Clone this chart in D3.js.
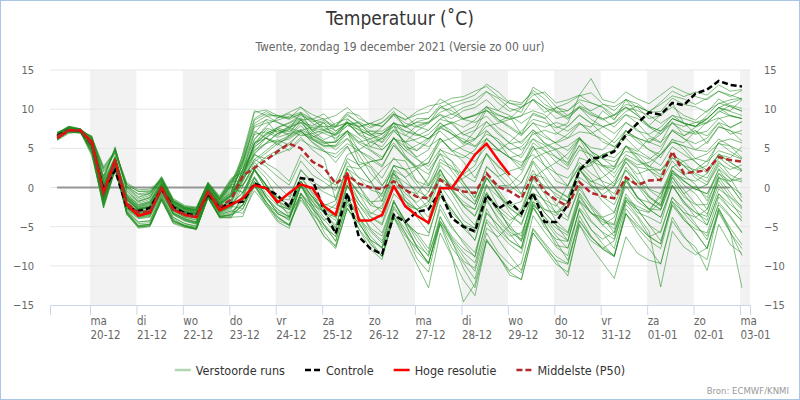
<!DOCTYPE html>
<html>
<head>
<meta charset="utf-8">
<script src="https://cdn.jsdelivr.net/npm/d3@7"></script>
<style>
  body { margin: 0; background: #fff; }
  svg text { font-family: "DejaVu Sans", sans-serif; font-stretch: condensed; }
</style>
</head>
<body>
<svg id="wrapper" width="800" height="400"></svg>
<script>
// eerste tijdstap van de pluim (lokale tijd), daarna elke 6 uur
const firstRun = new Date(2021, 11, 19, 7)
const stepHours = 6

const tickDays = ["ma", "di", "wo", "do", "vr", "za", "zo", "ma", "di", "wo", "do", "vr", "za", "zo", "ma"]
const tickDates = ["20-12", "21-12", "22-12", "23-12", "24-12", "25-12", "26-12", "27-12",
  "28-12", "29-12", "30-12", "31-12", "01-01", "02-01", "03-01"]
const yTicks = [-15, -10, -5, 0, 5, 10, 15]

const control = [6.6, 7.3, 7.3, 5.5, -0.3, 2.2, -2.5, -3.0, -2.6, -0.2, -2.5, -3.3, -3.6, -0.8, -2.6, -2.0,
  -1.8, 0.5, -0.1, -1.0, -2.5, 1.2, 1.0, -2.9, -5.9, -0.7, -6.3, -7.8, -8.5, -3.5, -4.4, -3.1,
  -2.8, -0.5, -3.9, -5.0, -5.6, -1.0, -2.7, -1.8, -3.3, -0.7, -4.4, -4.4, -2.2, 2.2, 3.7, 3.9,
  4.6, 6.7, 8.2, 9.6, 9.3, 10.8, 10.5, 12.0, 12.5, 13.6, 13.1, 12.9]

const hres = [6.3, 7.3, 7.3, 5.8, -0.7, 3.5, -2.2, -3.6, -3.2, 0.0, -2.8, -3.5, -3.8, -0.5, -2.9, -2.2,
  -1.4, 0.3, -0.1, -1.9, -0.7, 0.4, -0.1, -2.4, -3.5, 1.8, -4.2, -4.2, -3.5, 0.2, -2.4, -3.6,
  -4.5, -0.1, -0.1, 2.0, 4.2, 5.6, 3.5, 1.6]

const p50 = [6.5, 7.3, 7.3, 5.5, -0.8, 3.2, -2.0, -3.2, -3.0, -0.2, -2.8, -3.4, -3.8, -0.5, -2.5, -1.5,
  1.5, 2.5, 3.5, 4.6, 5.6, 5.0, 3.3, 2.5, 0.5, 1.6, 0.5, 0.0, -0.2, 0.8, -0.3, -1.2,
  -1.4, 1.0, -0.1, -0.5, -0.7, 1.8, 0.1, -0.5, -1.4, 1.6, -0.5, -1.6, -2.4, 0.7, -0.7, -1.1,
  -1.4, 1.3, 0.3, 0.9, 1.0, 4.6, 1.8, 2.0, 2.2, 3.9, 3.5, 3.3]

// 50 verstoorde runs
const members = [
  [6.8,7.6,7.4,6.0,0.5,3.8,-1.2,-2.5,-2.0,0.5,-2.2,-3.0,-3.0,0.0,-2.0,-0.8, 3.2,7.9,8.6,6.8, 7.4,9.6,7.1,8.3, 5.9,8.7,7.8,5.2, 6.4,8.2,5.1,3.9, 4.8,7.6,6.9,5.5, 7.2,9.9,8.4,9.1, 6.8,9.5,8.9,7.0, 6.3,8.1,7.7,9.8, 8.6,11.2,9.4,7.9, 9.3,10.8,8.2,6.9, 8.4,9.6,10.5,10.1],
  [6.5,7.4,7.3,5.5,-0.8,3.2,-2.0,-3.2,-3.0,-0.3,-2.8,-3.6,-3.8,-0.5,-2.6,-1.8, 1.1,5.6,7.4,6.6, 7.9,8.8,6.1,5.3, 5.4,7.2,3.3,2.6, 0.3,1.9,-1.7,-2.8, -4.6,-0.2,-3.6,-5.2, -6.7,-1.4,-4.2,-5.9, -7.8,-2.3,-5.1,-6.6, -6.9,-1.6,-3.2,-4.4, -4.8,0.9,-1.3,-2.7, -2.9,1.3,-0.8,0.2, -1.3,2.4,1.1,0.7],
  [6.2,7.3,7.2,4.6,-2.4,2.4,-3.1,-4.6,-4.5,-1.2,-4.0,-4.8,-5.1,-1.1,-3.6,-3.2, -1.8,1.2,-1.1,-3.4, -3.9,-0.8,-2.2,-3.1, -5.1,0.3,-2.9,-5.4, -6.8,-1.9,-4.3,-6.2, -8.3,-2.2,-4.9,-7.1, -8.9,-2.7,-5.4,-6.8, -7.7,-2.1,-3.8,-5.2, -6.1,-0.9,-3.3,-4.1, -4.7,1.2,-1.4,-1.9, -2.8,2.2,0.9,-0.3, 0.4,3.1,2.3,2.9],
  [6.9,7.8,7.5,6.3,2.5,4.6,0.4,-0.5,-0.4,1.0,-1.8,-2.6,-2.8,0.4,-1.5,0.5, 4.1,8.8,9.7,8.9, 9.6,10.3,8.7,9.4, 7.9,9.6,9.2,7.8, 8.3,9.7,7.6,8.4, 8.8,10.5,9.3,10.2, 10.7,12.2,11.4,10.1, 9.6,12.8,11.9,10.3, 9.2,10.4,9.8,10.6, 10.3,11.2,10.7,9.6, 10.9,12.3,11.6,12.2, 11.8,13.1,12.3,12.5],
  [6.5,7.4,7.2,5.4,-1.0,2.9,-3.3,-5.2,-5.0,-1.6,-4.5,-5.0,-5.4,-1.3,-3.9,-3.8, -3.7,0.2,-2.3,-4.4, -5.2,-0.7,-3.4,-4.8, -6.9,-1.8,-5.3,-7.9, -9.2,-3.7,-5.8,-9.1, -10.8,-4.6,-7.7,-9.6, -11.7,-5.8,-8.3,-9.8, -10.9,-5.2,-7.1,-8.8, -9.7,-3.6,-6.2,-7.9, -8.8,-2.7,-4.6,-6.3, -7.2,-1.8,-4.1,-5.7, -7.8,-2.9,-5.7,-8.7],
  [6.4,7.5,7.4,5.8,0.0,3.6,-1.5,-2.8,-2.5,0.2,-2.4,-3.2,-3.4,-0.2,-2.2,-1.0, 1.6,4.3,5.6,6.1, 5.4,7.2,6.3,5.6, 5.8,7.3,4.7,3.9, 2.8,5.4,3.9,2.7, 3.1,6.3,4.6,5.3, 6.1,8.4,6.8,5.7, 4.8,6.2,5.4,3.8, 3.2,5.3,4.1,2.9, 1.8,4.2,3.4,2.6, 4.3,6.1,5.7,7.2, 6.6,8.3,7.7,8.4],
  [6.6,7.2,7.0,5.2,-1.2,3.0,-2.4,-3.6,-3.3,-0.2,-3.4,-4.2,-4.6,-0.9,-3.2,-2.6, 0.8,4.1,3.7,4.3, 4.9,6.4,4.8,3.7, -1.6,2.4,0.2,-2.3, -2.7,1.3,-0.8,-1.9, -0.6,3.2,2.4,1.7, 2.8,6.3,4.9,3.8, 4.2,7.1,5.6,4.7, 2.9,6.2,3.8,1.9, 0.4,3.3,1.2,-1.1, -2.3,2.1,0.3,-0.8, -2.8,0.9,-1.2,-2.4],
  [7.0,7.6,7.3,6.5,1.2,5.0,-0.2,-1.5,-1.0,1.3,-1.6,-2.5,-2.7,0.6,-1.3,1.0, 2.6,6.2,7.8,8.9, 9.4,8.6,7.3,8.4, 7.7,9.4,8.2,6.8, 6.9,7.8,5.6,3.7, 2.2,4.3,2.1,0.2, -1.8,1.3,-0.9,-2.7, -3.8,0.2,-1.8,-4.3, -5.7,-0.7,-2.6,-4.8, -6.2,-1.3,-3.2,-3.8, -4.6,0.3,-2.1,-3.2, -3.7,1.4,0.2,-0.9],
  [6.3,7.2,7.1,5.0,-1.5,2.8,-2.6,-3.8,-3.6,-0.6,-3.2,-4.0,-4.4,-0.8,-3.0,-2.2, -0.6,2.3,0.4,-1.7, -2.8,0.3,-1.2,-2.1, -2.7,1.3,-0.6,-1.8, -1.7,2.2,1.3,2.4, 3.2,5.8,6.3,7.1, 7.8,10.2,9.3,8.7, 9.1,11.3,10.2,9.6, 9.8,10.9,9.6,8.8, 7.7,9.3,8.2,6.6, 5.8,7.2,6.3,4.8, 4.6,6.2,5.3,3.8],
  [6.7,7.5,7.4,5.9,0.3,3.7,-1.3,-2.6,-2.2,0.4,-2.3,-3.1,-3.2,-0.1,-2.1,-1.0, 1.8,5.1,6.4,7.6, 7.1,8.6,8.8,7.4, 8.2,8.8,7.6,6.9, 5.8,8.3,7.2,6.6, 7.3,8.8,9.4,8.7, 9.2,10.3,9.8,11.1, 10.8,12.1,10.6,9.8, 8.9,10.2,8.7,7.8, 6.9,8.3,7.4,5.8, 5.2,7.3,6.2,5.6, 6.3,8.2,6.8,7.3],
  [6.1,7.0,7.2,4.2,-2.0,2.6,-1.0,-2.0,-1.5,0.8,-1.9,-2.7,-3.2,0.3,-1.8,0.2, -0.7,1.4,-0.8,-2.3, -2.8,0.8,-1.2,-3.2, -3.8,1.2,-1.6,-3.7, -4.6,0.2,-1.8,-2.8, -2.2,1.8,0.3,-1.1, -2.1,1.2,-0.7,-2.6, -3.7,0.4,-1.8,-3.2, -2.6,1.3,0.2,-0.3, 0.8,3.2,1.7,2.3, 2.2,4.1,3.3,1.8, 1.2,3.8,2.7,2.1],
  [6.4,7.3,7.3,5.6,-0.6,3.3,-1.9,-3.0,-2.9,-0.2,-2.7,-3.5,-3.7,-0.4,-2.5,-1.6, 2.4,4.8,5.6,6.9, 7.4,6.6,6.9,5.8, 5.8,7.2,6.3,4.8, 3.9,5.7,3.8,2.3, 0.2,2.8,1.3,-0.8, -2.2,1.8,-0.3,-2.3, -3.2,1.1,-0.8,-3.3, -4.2,0.3,-2.4,-4.1, -5.3,-0.8,-2.8,-4.8, -5.8,-1.2,-3.3,-4.9, -6.2,-2.2,-3.8,-5.8],
  [6.3,7.4,7.2,4.8,-2.2,2.5,-3.0,-4.4,-4.3,-1.0,-3.8,-4.6,-5.0,-1.0,-3.4,-3.0, -2.2,0.3,-2.1,-3.8, -4.9,-1.2,-3.8,-6.2, -7.8,-2.6,-5.3,-7.2, -8.8,-3.8,-6.2,-7.7, -9.7,-4.3,-6.6,-8.8, -10.7,-5.2,-6.3,-4.8, -2.7,1.2,2.3,3.2, 4.3,6.2,5.1,4.8, 6.2,8.3,7.2,6.8, 7.7,9.2,8.8,8.3, 8.2,9.8,9.1,8.8],
  [6.8,7.7,7.5,6.2,2.2,4.4,0.2,-0.8,-0.6,0.9,-1.9,-2.7,-2.9,0.3,-1.6,0.3, 3.3,8.2,9.1,9.2, 8.8,10.2,9.3,8.7, 9.2,10.2,8.8,8.1, 7.8,9.3,8.2,7.7, 8.3,9.6,10.2,10.8, 11.2,12.3,10.8,9.7, 10.3,11.2,9.6,10.2, 10.8,11.7,12.1,10.7, 9.8,11.3,10.2,8.8, 9.2,10.3,9.2,8.6, 9.8,10.7,11.2,11.4],
  [6.5,7.4,7.3,5.7,-0.2,3.5,-1.6,-2.9,-2.6,0.1,-2.5,-3.3,-3.5,-0.3,-2.3,-1.2, 1.2,4.3,3.1,2.2, 0.8,4.2,2.7,1.2, 0.3,3.3,1.2,-0.3, -0.8,2.8,2.3,2.7, 3.8,6.2,4.7,3.3, 1.2,4.3,1.8,0.3, -0.9,3.2,0.8,-1.2, -1.8,2.3,0.4,-0.9, 0.2,3.8,2.9,3.2, 4.2,5.8,5.3,3.7, 3.3,4.7,4.2,3.6],
  [6.4,7.3,7.1,5.3,-1.2,2.7,-3.2,-5.0,-4.8,-1.5,-4.3,-4.9,-5.2,-1.2,-3.7,-3.5, -2.8,0.8,-1.2,-3.3, -4.2,0.2,-2.3,-4.1, -5.8,-1.2,-3.7,-6.2, -7.8,-2.7,-4.6,-5.8, -6.2,-0.8,-3.2,-4.7, -6.8,-1.7,-3.8,-5.7, -6.6,-0.7,-2.8,-3.6, -1.8,2.2,3.1,4.2, 3.8,5.3,4.2,2.7, 2.2,3.8,2.8,1.2, 0.3,2.8,1.2,-1.3],
  [6.9,7.5,7.3,6.3,1.0,4.8,-0.4,-1.7,-1.2,1.2,-1.7,-2.6,-2.8,0.5,-1.4,0.8, 0.8,3.6,4.7,5.9, 6.6,7.9,6.4,7.1, 6.8,8.2,6.9,7.2, 6.8,8.3,6.7,5.8, 5.2,6.3,4.8,4.1, 3.3,5.2,4.7,5.8, 7.2,8.7,8.3,7.6, 8.2,11.8,13.9,11.2, 10.8,12.2,11.3,10.7, 11.8,12.9,12.2,11.6, 11.2,12.3,11.8,11.3],
  [6.6,7.3,7.1,5.1,-1.4,2.9,-2.5,-3.8,-3.5,-0.4,-3.5,-4.3,-4.7,-1.0,-3.3,-2.8, 0.2,2.8,1.2,-1.3, -2.2,1.3,-0.8,-3.2, -4.2,0.3,-2.2,-4.3, -5.8,-1.8,-4.2,-6.8, -8.8,-3.7,-6.8,-10.3, -12.8,-6.8,-8.7,-11.2, -11.7,-5.8,-7.7,-9.3, -9.8,-4.2,-6.3,-7.8, -8.8,-3.3,-5.2,-6.8, -7.8,-2.3,-4.2,-5.3, -5.8,-1.2,-2.8,-4.3],
  [6.8,7.6,7.3,6.1,0.7,3.9,-1.1,-2.4,-1.9,0.6,-2.1,-2.9,-2.9,0.1,-1.9,-0.6, 2.9,6.8,7.1,6.4, 6.9,8.7,7.2,6.1, 6.8,8.3,6.7,5.8, 5.2,7.2,5.8,4.7, 5.8,8.3,6.8,6.2, 5.3,6.8,6.2,4.7, 3.8,6.2,4.8,3.2, 2.3,4.8,4.2,2.8, 2.7,5.3,3.8,2.2, 1.3,3.8,2.8,2.2, 2.8,5.8,6.2,5.7],
  [6.3,7.4,7.4,5.9,0.1,3.7,-1.4,-2.7,-2.4,0.3,-2.3,-3.1,-3.3,-0.1,-2.1,-0.9, 1.4,5.7,6.9,7.6, 8.3,9.2,8.4,8.8, 7.2,8.3,7.7,8.2, 8.8,10.2,9.2,7.8, 7.3,8.7,8.3,6.8, 6.2,7.8,8.2,8.7, 9.2,9.8,9.3,7.8, 7.2,8.3,6.8,6.2, 5.2,6.8,6.3,5.7, 6.8,8.8,8.2,7.8, 8.7,10.2,9.7,9.2],
  [6.2,7.1,7.0,4.9,-1.6,2.7,-2.7,-3.9,-3.7,-0.7,-3.3,-4.1,-4.5,-0.9,-3.1,-2.4, -2.7,0.3,-1.8,-3.7, -4.8,-0.7,-2.8,-4.2, -3.2,1.2,-0.8,-3.2, -3.8,0.2,-1.7,-3.8, -5.8,-1.2,-2.8,-4.8, -5.2,0.3,-1.2,-2.3, -1.8,1.7,1.2,-0.3, -1.2,2.3,0.2,-1.8, -3.2,0.8,-1.2,-2.8, -3.8,0.3,-1.8,-3.2, -4.2,-0.2,-1.3,-2.8],
  [7.0,7.8,7.4,6.4,2.7,4.7,0.6,-0.3,-0.2,1.1,-1.7,-2.5,-2.6,0.5,-1.4,0.7, 3.6,8.6,9.4,9.1, 8.7,9.4,8.2,7.3, 7.7,8.3,6.8,6.2, 4.8,6.3,5.2,4.7, 6.2,7.8,8.2,8.8, 9.3,9.8,8.7,7.8, 6.8,8.2,7.7,8.3, 7.8,9.2,8.2,6.8, 5.7,7.3,6.2,4.8, 3.8,6.2,4.8,3.2, 2.2,4.3,3.2,2.3],
  [6.1,7.2,7.1,4.5,-2.6,2.3,-3.2,-4.8,-4.7,-1.3,-4.1,-4.9,-5.3,-1.2,-3.7,-3.4, -1.2,2.2,0.3,-2.2, -3.3,0.8,-1.2,-3.3, -4.8,-0.8,-2.8,-5.2, -6.2,-1.8,-4.3,-5.8, -7.8,-2.8,-5.2,-6.8, -8.3,-3.2,-4.8,-6.2, -5.8,-1.8,-2.8,-3.2, -1.8,2.3,2.8,4.2, 4.8,7.2,6.3,5.8, 7.2,8.8,8.2,7.8, 9.2,10.8,10.3,9.8],
  [6.6,7.5,7.2,5.4,-0.9,3.1,-2.1,-3.3,-3.1,-0.4,-2.9,-3.7,-3.9,-0.6,-2.7,-1.9, 1.2,3.3,4.4,5.6, 4.7,6.1,5.2,4.6, 3.8,5.3,2.8,0.8, -1.2,1.8,-0.3,-2.2, -3.8,0.3,-1.8,-4.2, -5.2,-0.8,-3.2,-4.8, -6.8,-1.8,-4.2,-6.2, -7.8,-2.8,-5.3,-7.2, -8.8,-3.3,-5.8,-7.8, -9.8,-3.8,-6.2,-8.2, -9.2,-2.8,-5.2,-7.3],
  [6.9,7.7,7.4,6.4,1.4,5.0,0.0,-1.3,-0.8,1.3,-1.5,-2.4,-2.6,0.6,-1.2,1.0, 2.2,6.9,8.7,8.3, 7.6,8.3,7.9,8.6, 7.8,9.2,8.3,6.8, 6.2,7.3,5.8,6.2, 6.8,8.2,7.2,5.8, 6.2,7.3,5.8,4.8, 5.2,6.8,7.3,6.8, 7.8,9.3,8.2,7.8, 8.2,9.3,8.8,7.7, 6.8,8.2,7.8,8.3, 8.8,10.2,9.8,11.2],
  [6.2,7.1,7.2,4.4,-1.8,2.7,-1.1,-2.2,-1.7,0.7,-2.0,-2.8,-3.3,0.2,-1.9,0.0, 0.3,2.2,-0.2,-1.3, -2.2,0.8,-1.3,-2.8, -3.8,1.3,-0.8,-2.2, -0.8,2.8,2.3,0.8, 0.2,2.3,-0.2,-2.2, -2.8,1.2,-0.8,-3.2, -4.8,-0.8,-3.2,-4.8, -5.8,-1.8,-3.3,-3.8, -3.2,1.2,0.3,-1.2, -2.2,1.3,-0.8,-2.8, -4.8,-0.8,-2.2,-3.3],
  [6.7,7.6,7.4,6.0,0.4,3.8,-1.2,-2.5,-2.1,0.5,-2.2,-3.0,-3.1,0.0,-2.0,-0.7, 4.4,9.8,9.2,8.3, 7.7,8.6,7.4,6.9, 6.3,7.2,5.8,6.2, 6.8,8.2,7.7,8.3, 8.2,9.3,8.8,9.8, 10.2,11.2,9.8,9.2, 8.2,9.3,8.8,10.2, 9.8,11.2,10.8,10.3, 9.2,10.3,9.2,7.8, 7.2,8.8,8.2,7.8, 8.8,10.2,10.8,11.3],
  [6.6,7.4,7.2,5.5,-0.9,3.0,-3.4,-5.1,-4.9,-1.6,-4.6,-5.1,-5.3,-1.3,-3.8,-3.7, -2.2,1.3,-1.2,-2.8, -3.8,0.3,-2.2,-4.8, -6.8,-2.2,-4.3,-7.2, -8.8,-3.2,-5.8,-8.2, -9.8,-3.8,-6.2,-7.8, -8.8,-3.3,-4.8,-6.8, -7.8,-2.2,-3.8,-5.8, -6.8,-1.2,-3.2,-4.8, -3.8,0.2,-1.8,-2.8, -1.2,2.2,0.8,-0.2, -0.8,2.3,0.2,-1.8],
  [6.4,7.5,7.3,5.8,0.0,3.6,-1.5,-2.8,-2.5,0.2,-2.4,-3.2,-3.4,-0.2,-2.2,-1.1, 0.4,2.7,3.9,4.8, 5.7,6.9,6.1,5.2, 5.2,6.3,4.8,2.8, 1.2,3.8,2.2,0.3, -1.8,2.2,-0.2,-1.8, -2.8,1.2,0.2,0.3, 1.8,4.8,5.2,5.8, 6.8,8.2,7.2,5.8, 5.2,6.3,4.8,3.8, 2.8,5.2,4.2,3.3, 1.8,4.2,3.2,2.2],
  [6.5,7.4,7.3,5.5,-0.7,3.2,-2.0,-3.2,-3.0,-0.3,-2.8,-3.6,-3.8,-0.5,-2.6,-1.7, 2.2,5.2,6.3,5.8, 6.2,7.2,5.8,4.8, 3.2,5.2,2.8,0.8, -1.8,2.2,-0.3,-0.8, 1.2,4.8,4.2,3.8, 4.8,7.2,5.8,3.8, 2.2,5.3,2.8,0.8, 0.2,3.8,3.2,4.2, 4.8,7.3,5.8,4.8, 4.2,5.8,5.3,4.8, 5.8,7.8,7.2,6.8],
  [6.1,7.2,7.1,4.4,-2.6,2.2,-3.3,-4.9,-4.7,-1.4,-4.2,-5.0,-5.3,-1.2,-3.8,-3.5, -2.2,0.8,-1.8,-4.2, -4.8,-1.2,-3.2,-5.2, -6.2,-1.2,-3.8,-6.8, -8.8,-3.8,-6.8,-9.8, -12.8,-5.8,-8.8,-11.8, -13.8,-6.8,-8.8,-10.8, -11.8,-5.8,-7.8,-9.8, -10.8,-4.8,-6.8,-7.8, -6.8,-1.8,-2.8,-3.2, -1.8,1.8,0.8,-0.2, -0.8,1.8,0.2,-1.8],
  [6.9,7.8,7.5,6.3,2.4,4.6,0.4,-0.5,-0.5,1.0,-1.8,-2.6,-2.8,0.4,-1.5,0.4, 3.4,7.7,8.2,8.6, 9.1,9.6,8.7,8.2, 7.2,8.2,7.8,8.2, 7.8,9.2,7.8,6.8, 6.2,7.8,6.8,5.8, 5.2,6.2,4.8,3.8, 3.2,4.2,2.8,1.8, 1.2,3.2,1.8,0.8, 0.2,2.2,0.8,-0.2, -0.8,1.8,1.2,0.8, 1.8,4.2,3.8,5.2],
  [6.0,6.9,7.1,4.0,-2.2,2.4,-0.8,-1.8,-1.3,1.0,-1.7,-2.5,-3.0,0.5,-1.6,0.4, 0.2,3.2,1.8,0.2, -1.2,2.2,0.8,-0.2, 0.8,4.2,4.8,5.8, 6.2,7.8,7.2,6.8, 6.2,7.2,5.8,4.8, 4.2,6.2,4.8,3.8, 2.8,5.2,3.8,1.8, 0.2,2.8,1.2,-1.2, -2.2,1.2,-1.2,-2.8, -3.8,0.2,-1.8,-3.8, -4.8,-0.8,-2.8,-4.2],
  [6.5,7.3,7.1,5.0,-1.4,2.8,-2.6,-3.7,-3.4,-0.3,-3.3,-4.0,-4.4,-0.8,-3.1,-2.4, -1.2,2.2,0.2,-2.2, -2.8,0.2,-1.8,-3.8, -5.2,0.2,-2.2,-3.8, -4.8,-0.8,-2.2,-2.8, -1.8,1.2,0.2,1.2, 2.2,4.2,2.8,1.2, -0.8,2.2,-0.2,-2.2, -3.8,-0.2,-2.2,-3.8, -5.8,-1.2,-2.8,-4.8, -6.8,-2.2,-3.8,-5.8, -7.8,-3.2,-5.8,-7.8],
  [6.8,7.7,7.4,6.4,1.5,4.9,0.1,-1.2,-0.7,1.4,-1.4,-2.3,-2.5,0.7,-1.1,1.2, 1.9,4.6,6.3,7.4, 6.8,7.4,6.6,5.7, 5.8,7.2,5.8,5.2, 4.8,6.2,5.8,7.2, 8.2,10.2,10.8,11.2, 11.8,13.2,12.2,10.8, 10.2,11.2,10.2,8.8, 9.2,10.2,9.2,8.8, 9.2,10.2,9.8,9.2, 8.2,9.2,8.2,7.8, 8.8,10.2,9.2,8.8],
  [6.2,7.1,7.0,4.8,-1.7,2.6,-2.8,-4.0,-3.8,-0.8,-3.4,-4.2,-4.6,-1.0,-3.2,-2.5, -1.2,1.2,-1.2,-2.8, -3.8,0.2,-1.8,-3.2, -2.2,1.8,0.2,-1.8, -3.2,0.8,-1.2,-2.8, -4.8,-0.8,-2.8,-4.8, -5.8,-0.8,-2.8,-4.2, -3.2,1.2,0.2,-0.8, -1.8,2.2,0.8,0.2, -0.8,2.2,0.2,-1.8, -2.8,0.8,-1.2,-2.2, -2.2,1.8,0.8,1.2],
  [6.5,7.5,7.4,5.8,-0.1,3.5,-1.5,-2.9,-2.5,0.2,-2.4,-3.2,-3.4,-0.2,-2.2,-1.0, 2.2,6.1,7.6,7.1, 7.7,8.3,6.6,5.9, 4.8,6.2,4.2,1.8, 0.2,2.8,1.2,-0.8, -2.8,1.2,-0.8,-3.2, -4.8,-0.8,-2.8,-5.2, -6.2,-1.2,-3.2,-4.8, -6.8,-1.8,-4.2,-5.8, -7.8,-2.2,-3.8,-6.2, -7.2,-1.8,-3.2,-3.8, -2.8,1.2,0.8,2.2],
  [6.7,7.7,7.3,6.1,0.8,4.0,-0.9,-2.2,-1.8,0.7,-2.0,-2.8,-2.9,0.2,-1.8,-0.5, 3.1,7.2,6.3,5.4, 6.6,7.3,7.7,7.8, 7.8,8.2,8.2,7.2, 7.2,8.2,7.8,8.8, 8.8,10.2,9.8,8.8, 9.2,9.8,9.2,8.8, 10.2,11.8,12.2,10.8, 11.2,11.8,10.8,10.2, 8.8,10.2,9.2,7.8, 7.2,8.2,7.2,6.8, 7.2,8.8,9.2,8.8],
  [6.4,7.5,7.2,5.3,-1.1,3.0,-2.2,-3.4,-3.2,-0.5,-3.0,-3.8,-4.1,-0.6,-2.8,-2.0, 0.9,3.6,2.7,1.4, 0.3,3.4,1.6,0.7, -0.4,3.7,2.9,3.3, 3.6,6.4,4.1,2.3, 0.4,3.6,2.7,0.6, -1.3,2.7,1.4,2.1, 2.6,5.7,4.6,3.9, 2.7,5.4,3.1,0.6, -1.4,2.6,0.7,-1.3, -2.4,1.6,-0.3,-2.1, -3.4,0.4,-1.7,-3.9],
  [6.4,7.3,7.1,5.2,-1.3,2.7,-3.1,-4.9,-4.7,-1.4,-4.3,-4.8,-5.2,-1.2,-3.7,-3.5, -2.3,0.6,-1.4,-3.1, -3.7,-0.9,-2.6,-4.7, -6.3,-1.6,-3.9,-5.6, -7.1,-2.4,-4.6,-7.6, -9.7,-4.6,-6.9,-9.4, -10.3,-4.1,-5.7,-7.3, -8.4,-2.6,-4.7,-6.9, -9.3,-4.3,-6.4,-7.6, -8.7,-3.4,-4.9,-6.3, -5.6,-1.3,-2.7,-4.6, -6.7,-1.9,-3.6,-5.7],
  [6.8,7.7,7.4,6.1,2.0,4.3,0.1,-0.9,-0.8,0.8,-2.0,-2.8,-3.0,0.3,-1.7,0.2, 2.3,5.4,6.8,7.7, 8.2,8.9,7.6,7.3, 6.7,7.9,7.4,6.6, 5.7,7.4,6.6,7.9, 8.4,9.3,8.1,6.7, 7.3,8.4,7.1,5.6, 5.9,7.3,6.4,5.7, 6.3,7.1,6.9,7.7, 8.3,9.7,10.4,9.6, 9.7,11.4,10.6,10.3, 9.6,11.3,10.4,9.7],
  [6.5,7.4,7.3,5.9,0.2,3.7,-1.6,-2.7,-2.4,0.3,-2.3,-3.1,-3.3,-0.1,-2.1,-0.9, 1.7,4.4,5.7,6.9, 7.6,7.1,6.2,5.4, 5.3,6.9,5.6,4.7, 3.6,6.4,4.7,3.6, 2.7,4.9,3.3,0.7, -1.3,2.6,1.3,-0.4, 0.6,3.7,4.4,4.9, 5.3,6.4,4.6,2.7, 1.3,3.6,2.4,-0.3, -1.4,2.7,1.6,2.3, 3.4,5.7,4.6,3.7],
  [6.7,7.1,6.9,5.3,-1.0,3.2,-2.2,-3.4,-3.1,0.0,-3.2,-4.0,-4.5,-0.7,-3.0,-2.3, -1.7,0.4,-1.9,-3.3, -4.1,0.4,-1.6,-2.7, -3.6,0.6,-1.7,-3.4, -2.3,1.7,0.6,-0.4, -1.3,1.6,-0.3,-2.4, -3.7,-0.6,-2.7,-5.3, -6.9,-2.6,-4.6,-7.4, -7.7,-2.9,-5.4,-6.6, -5.7,-1.6,-2.4,-3.1, -0.7,2.6,3.4,3.7, 4.3,5.6,5.3,4.6],
  [7.1,7.5,7.2,6.6,0.9,5.2,-0.5,-1.8,-1.3,1.1,-1.8,-2.7,-2.9,0.4,-1.5,0.8, 1.7,5.6,6.7,7.4, 6.6,8.3,6.9,7.3, 6.6,7.9,8.4,7.6, 8.3,9.4,8.7,9.3, 9.6,11.3,10.4,8.7, 8.3,9.1,7.6,6.7, 5.6,7.4,5.7,4.9, 3.6,6.3,4.6,3.7, 3.3,4.6,4.3,3.6, 4.7,7.4,6.6,7.7, 8.3,8.9,7.6,8.4],
  [6.3,7.2,7.3,4.5,-1.7,2.9,-1.3,-2.3,-1.9,0.5,-2.2,-3.0,-3.5,0.0,-2.1,-0.2, -0.6,2.4,0.3,-1.7, -2.6,1.4,-0.6,-2.3, -1.7,2.4,1.3,0.6, 2.3,3.6,3.4,0.7, -0.6,2.3,-0.4,-2.3, -3.6,0.4,-2.4,-3.7, -4.6,-0.7,-1.6,-2.4, 0.3,2.6,3.4,2.7, 2.4,3.7,2.6,2.3, 0.7,3.4,1.6,0.4, -1.7,1.3,-0.7,-2.6],
  [6.9,7.5,7.5,5.8,0.2,3.6,-1.4,-2.7,-2.3,0.3,-2.4,-3.2,-3.3,-0.2,-2.2,-1.1, 3.9,9.6,9.9,9.2, 8.9,9.4,8.6,7.7, 6.9,8.4,7.3,6.6, 7.7,9.4,8.6,9.7, 10.4,10.7,11.4,11.6, 12.3,12.9,11.6,10.7, 10.6,12.4,11.3,9.6, 8.7,10.3,9.4,8.6, 9.3,10.6,10.3,9.7, 10.6,11.7,11.3,10.6, 11.4,12.3,11.6,12.4],
  [6.3,7.4,7.3,4.8,-2.1,2.6,-2.9,-4.4,-4.2,-1.0,-3.8,-4.6,-4.9,-1.0,-3.5,-3.0, -3.3,-0.4,-2.3,-3.9, -4.7,-1.6,-3.6,-6.3, -7.4,-2.7,-4.6,-6.7, -7.6,-3.4,-5.3,-7.4, -8.6,-4.3,-6.4,-8.3, -9.6,-4.4,-6.6,-8.7, -10.6,-5.4,-7.3,-9.4, -11.3,-4.7,-7.6,-9.6, -11.6,-6.3,-8.4,-9.3, -9.7,-4.3,-6.4,-7.6, -10.6,-4.7,-7.3,-8.4],
  [6.6,7.3,7.4,5.7,-0.5,3.4,-1.8,-3.0,-2.8,-0.1,-2.6,-3.4,-3.6,-0.4,-2.4,-1.5, 1.6,5.7,6.3,5.6, 6.4,7.3,5.7,4.6, 4.3,5.6,4.7,3.6, 2.6,5.4,3.7,2.6, 1.7,4.3,3.4,1.6, 0.7,4.4,2.6,1.7, 0.6,3.4,1.6,-0.4, -1.3,2.4,0.7,1.3, 2.4,5.3,4.6,6.3, 5.7,8.4,6.6,7.3, 5.6,7.7,7.3,5.9],
  [6.4,7.3,7.2,5.2,-1.3,3.0,-2.4,-3.6,-3.4,-0.4,-3.0,-3.8,-4.2,-0.6,-2.8,-2.0, -0.7,2.4,-0.3,-1.3, -1.6,2.3,0.4,-0.6, -1.3,2.7,2.4,3.3, 3.6,6.3,4.7,5.4, 6.3,7.6,8.4,7.7, 8.6,10.4,8.7,7.6, 6.6,8.3,6.7,5.6, 4.7,6.4,4.6,3.7, 2.6,5.3,3.6,2.7, 1.6,4.4,2.7,1.6, 0.7,3.4,1.6,0.9],
  [6.6,7.5,7.3,5.6,-0.7,3.1,-3.5,-5.0,-4.9,-1.7,-4.4,-4.9,-5.3,-1.4,-3.8,-3.9, -0.9,2.3,0.4,-1.6, -3.7,0.3,-2.6,-5.7, -7.6,-2.7,-4.6,-6.7, -7.7,-1.6,-4.7,-7.6, -9.6,-4.7,-8.6,-14.6, -12.3,-6.6,-8.7,-10.6, -9.7,-3.6,-5.7,-7.6, -8.7,-2.6,-4.4,-5.7, -6.6,-1.7,-3.6,-5.6, -12.7,-5.6,-7.6,-8.6, -7.7,-2.6,-5.6,-12.8],
]

const legendItems = ["Verstoorde runs", "Controle", "Hoge resolutie", "Middelste (P50)"]

// nullijn loopt van eerste tot voorlaatste tijdstap
const zeroLineEnd = new Date(2022, 0, 2, 19)

function drawPlume() {
  const timeAt = i => d3.timeHour.offset(firstRun, i * stepHours)

  let dimensions = {
    width: 800,
    height: 400,
    margin: { top: 70, right: 50, bottom: 95, left: 50 },
  }
  dimensions.boundedWidth = dimensions.width - dimensions.margin.left - dimensions.margin.right
  dimensions.boundedHeight = dimensions.height - dimensions.margin.top - dimensions.margin.bottom

  const wrapper = d3.select("#wrapper")

  wrapper.append("rect")
      .attr("x", 0.5).attr("y", 0.5)
      .attr("width", dimensions.width - 1).attr("height", dimensions.height - 1)
      .attr("fill", "#fff")
      .attr("stroke", "#a9c6e8")

  const bounds = wrapper.append("g")
      .attr("transform", `translate(${dimensions.margin.left},${dimensions.margin.top})`)

  // scales
  const xScale = d3.scaleTime()
    .domain([new Date(2021, 11, 19, 3, 20), new Date(2022, 0, 3, 5, 10)])
    .range([0, dimensions.boundedWidth])

  const yScale = d3.scaleLinear()
    .domain([-15, 15])
    .range([dimensions.boundedHeight, 0])

  const tickTimes = tickDates.map((d, i) => d3.timeDay.offset(new Date(2021, 11, 20), i))

  // afwisselende dagbanden
  bounds.append("g")
    .selectAll("rect")
    .data(tickTimes.filter((d, i) => i % 2 == 0))
    .join("rect")
      .attr("x", d => xScale(d))
      .attr("width", d => Math.min(xScale(d3.timeDay.offset(d, 1)), dimensions.boundedWidth) - xScale(d))
      .attr("y", 0)
      .attr("height", dimensions.boundedHeight)
      .attr("fill", "#f2f2f2")

  // gridlines
  bounds.append("g")
    .selectAll("line")
    .data(yTicks.filter(d => d != -15))
    .join("line")
      .attr("x1", 0).attr("x2", dimensions.boundedWidth)
      .attr("y1", d => yScale(d)).attr("y2", d => yScale(d))
      .attr("stroke", "#e6e6e6")

  // y-assen links en rechts
  const yAxisLeft = bounds.append("g")
    .call(d3.axisLeft(yScale).tickValues(yTicks).tickSize(0).tickPadding(16))
  const yAxisRight = bounds.append("g")
      .attr("transform", `translate(${dimensions.boundedWidth},0)`)
    .call(d3.axisRight(yScale).tickValues(yTicks).tickSize(0).tickPadding(14))
  for (const ax of [yAxisLeft, yAxisRight]) {
    ax.select(".domain").remove()
    ax.selectAll("text")
        .attr("fill", "#666")
        .style("font-size", "11px")
  }

  // x-as
  const xAxis = bounds.append("g")
      .attr("transform", `translate(0,${dimensions.boundedHeight})`)
    .call(d3.axisBottom(xScale).tickValues(tickTimes).tickSize(10).tickFormat(""))
  xAxis.select(".domain").attr("stroke", "#ccd6eb")
  xAxis.selectAll(".tick line").attr("stroke", "#ccd6eb")
  xAxis.selectAll(".tick").each(function(d, i) {
    const label = d3.select(this).append("text")
        .attr("fill", "#666")
        .attr("text-anchor", "start")
        .style("font-size", "11.5px")
    label.append("tspan").attr("x", 0).attr("y", 20).text(tickDays[i])
    label.append("tspan").attr("x", 0).attr("y", 34).text(tickDates[i])
  })

  // nullijn
  bounds.append("line")
      .attr("x1", xScale(firstRun)).attr("x2", xScale(zeroLineEnd))
      .attr("y1", yScale(0)).attr("y2", yScale(0))
      .attr("stroke", "#888")
      .attr("stroke-width", 2)
      .attr("opacity", 0.85)

  const lineGenerator = d3.line()
    .x((d, i) => xScale(timeAt(i)))
    .y(d => yScale(d))

  // ensemble
  bounds.append("g")
    .selectAll("path")
    .data(members)
    .join("path")
      .attr("d", lineGenerator)
      .attr("fill", "none")
      .attr("stroke", "#1f8c1f")
      .attr("stroke-width", 1)
      .attr("stroke-opacity", 0.55)

  bounds.append("path")
      .attr("d", lineGenerator(control))
      .attr("fill", "none")
      .attr("stroke", "#000")
      .attr("stroke-width", 2.5)
      .attr("stroke-dasharray", "6,3")

  bounds.append("path")
      .attr("d", lineGenerator(hres))
      .attr("fill", "none")
      .attr("stroke", "#ff0000")
      .attr("stroke-width", 2.5)
      .attr("stroke-linejoin", "round")

  bounds.append("path")
      .attr("d", lineGenerator(p50))
      .attr("fill", "none")
      .attr("stroke", "#b22a2a")
      .attr("stroke-width", 2.5)
      .attr("stroke-dasharray", "6,3")

  // titels
  wrapper.append("text")
      .attr("x", 400).attr("y", 25)
      .attr("text-anchor", "middle")
      .attr("fill", "#333")
      .style("font-size", "19px")
      .text("Temperatuur (˚C)")

  wrapper.append("text")
      .attr("x", 400).attr("y", 51)
      .attr("text-anchor", "middle")
      .attr("fill", "#666")
      .style("font-size", "12px")
      .text("Twente, zondag 19 december 2021 (Versie zo 00 uur)")

  // legenda
  const legendStyles = [
    { stroke: "#1f8c1f", opacity: 0.35, dash: null },
    { stroke: "#000", opacity: 1, dash: "6,3" },
    { stroke: "#ff0000", opacity: 1, dash: null },
    { stroke: "#b22a2a", opacity: 1, dash: "6,3" },
  ]
  const legendGroup = wrapper.append("g")
  const items = legendGroup.selectAll("g")
    .data(legendItems)
    .join("g")
  items.append("line")
      .attr("x1", 0).attr("x2", 16)
      .attr("y1", 0).attr("y2", 0)
      .attr("stroke", (d, i) => legendStyles[i].stroke)
      .attr("stroke-opacity", (d, i) => legendStyles[i].opacity)
      .attr("stroke-dasharray", (d, i) => legendStyles[i].dash)
      .attr("stroke-width", 2.5)
  items.append("text")
      .attr("x", 21).attr("y", 4.5)
      .attr("fill", "#333")
      .style("font-size", "12.5px")
      .text(d => d)

  let offset = 0
  const widths = []
  items.each(function() { widths.push(this.getBBox().width) })
  const total = d3.sum(widths) + 20 * (widths.length - 1)
  items.attr("transform", (d, i) => {
    const x = 400 - total / 2 + offset
    offset += widths[i] + 20
    return `translate(${x},370)`
  })

  wrapper.append("text")
      .attr("x", 789).attr("y", 394)
      .attr("text-anchor", "end")
      .attr("fill", "#999")
      .style("font-size", "9.5px")
      .text("Bron: ECMWF/KNMI")
}

drawPlume()
</script>
</body>
</html>
